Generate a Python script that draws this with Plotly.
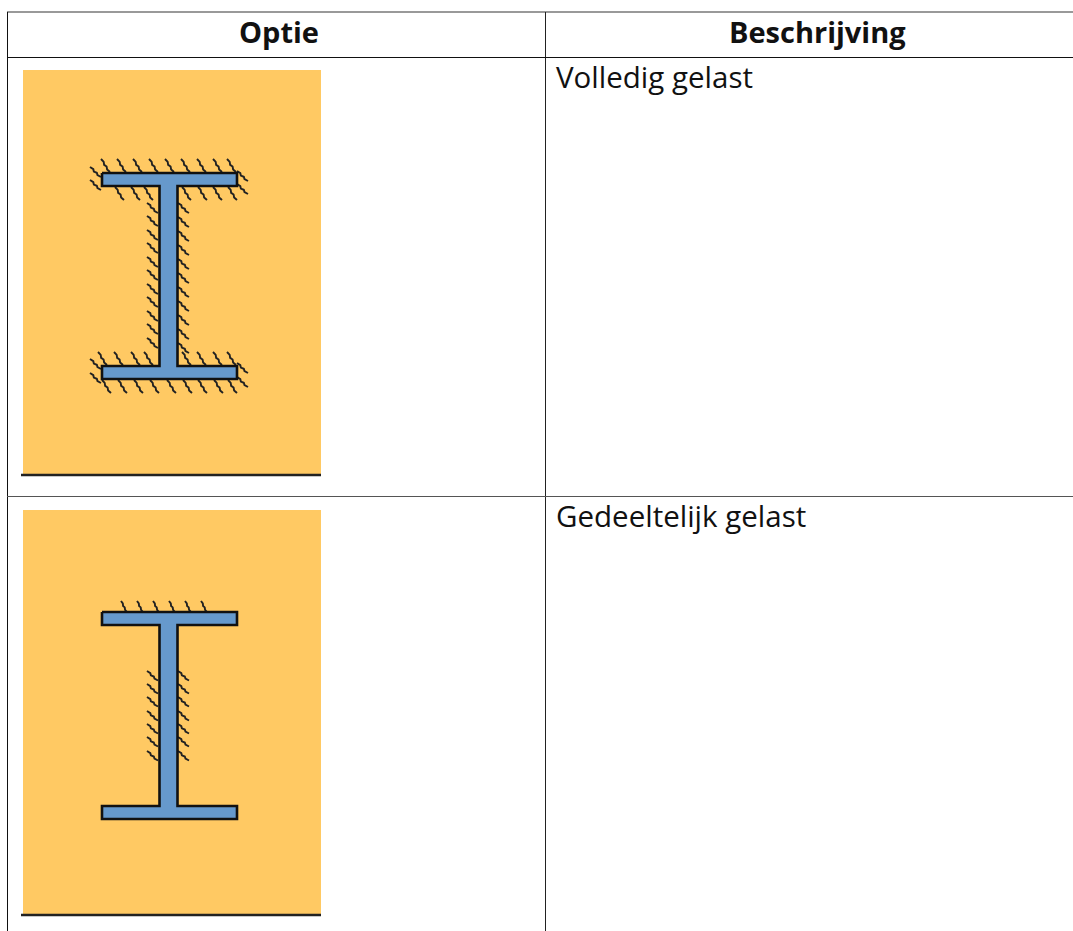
import plotly.graph_objects as go

W, H = 1073, 931
headers = ["Optie", "Beschrijving"]
header_x = [279, 817]
descriptions = ["Volledig gelast", "Gedeeltelijk gelast"]
description_y = [76.5, 515.5]

panel_top = [70, 510]
panel_bottom = [474, 914]
panel_left, panel_right = 23, 321

flange_left, flange_right = 102, 237
web_left, web_right = 159.5, 177.5
beam_tops = [173, 612]
beam_bottoms = [379, 819]
flange_h = 13

# hatch starts: x, y, with steep or flat stroke
steep1_x = [101, 117, 133, 149, 165, 181, 197, 213, 227,
            115, 131, 144, 182, 198, 213, 228,
            98, 114, 131, 144, 182, 197, 213, 227,
            102, 118, 134, 150, 167, 183, 198, 214, 228]
steep1_y = [159] * 9 + [187] * 7 + [352] * 8 + [380] * 9
flat1_x = [90, 90, 237, 237, 90, 90, 237, 237] + [147] * 11 + [178] * 11
flat1_y = [167, 180, 171, 184, 359, 373, 363, 377,
           203, 216, 230, 243, 257, 270, 284, 297, 311, 324, 338,
           203, 217, 231, 245, 259, 273, 287, 301, 315, 329, 343]
steep2_x = [121, 137, 153, 169, 185, 201]
steep2_y = [601] * 6
flat2_x = [147] * 7 + [178] * 7
flat2_y = [671, 684, 697, 711, 724, 737, 751, 671, 684, 697, 711, 724, 737, 751]

wiggle = [(0, 0), (.3, .22), (.35, .45), (.62, .58), (.68, .8), (1, 1)]

ORANGE = "#FFC963"
BLUE = "#6699CC"
fig = go.Figure()

def hatch(xs, ys, dx, dy):
    px, py = [], []
    for x0, y0 in zip(xs, ys):
        for a, b in wiggle:
            px.append(x0 + a * dx)
            py.append(y0 + b * dy)
        px.append(None)
        py.append(None)
    fig.add_trace(go.Scatter(x=px, y=py, mode="lines", hoverinfo="skip",
                             line=dict(color="#222", width=1.9)))

shapes = []
for t, b in zip(panel_top, panel_bottom):
    shapes.append(dict(type="rect", x0=panel_left, x1=panel_right, y0=t, y1=b,
                       fillcolor=ORANGE, line_width=0, layer="below"))
    shapes.append(dict(type="line", x0=21, x1=panel_right, y0=b + 1, y1=b + 1,
                       line=dict(color="#222", width=2.4), layer="below"))

for x0, y0, x1, y1, c, w in [
    (7, 12, W, 12, "#777777", 1.5),
    (7.5, 12, 7.5, H, "#111111", 1),
    (545.5, 12, 545.5, H, "#222222", 1),
    (7, 57.5, W, 57.5, "#111111", 1),
    (7, 496.5, W, 496.5, "#555555", 1),
]:
    shapes.append(dict(type="line", x0=x0, x1=x1, y0=y0, y1=y1,
                       line=dict(color=c, width=w), layer="below"))

hatch(steep1_x, steep1_y, 9, 13)
hatch(flat1_x, flat1_y, 11, 10)
hatch(steep2_x, steep2_y, 6, 11)
hatch(flat2_x, flat2_y, 11, 9.5)

for t, b in zip(beam_tops, beam_bottoms):
    xs = [flange_left, flange_right, flange_right, web_right, web_right, flange_right,
          flange_right, flange_left, flange_left, web_left, web_left, flange_left, flange_left]
    ys = [t, t, t + flange_h, t + flange_h, b - flange_h, b - flange_h,
          b, b, b - flange_h, b - flange_h, t + flange_h, t + flange_h, t]
    fig.add_trace(go.Scatter(x=xs, y=ys, mode="lines", fill="toself", fillcolor=BLUE,
                             hoverinfo="skip", line=dict(color="#111", width=2.6)))

ann = []
for s, x in zip(headers, header_x):
    ann.append(dict(x=x, y=31, text=f"<b>{s}</b>", showarrow=False, xanchor="center", yanchor="middle",
                    font=dict(family="Open Sans", size=29, color="#111")))
for s, y in zip(descriptions, description_y):
    ann.append(dict(x=554, y=y, text=s, showarrow=False, xanchor="left", yanchor="middle",
                    font=dict(family="Open Sans", size=29.5, color="#111")))

fig.update_layout(width=W, height=H, margin=dict(l=0, r=0, t=0, b=0),
                  paper_bgcolor="white", plot_bgcolor="white", showlegend=False,
                  shapes=shapes, annotations=ann,
                  xaxis=dict(range=[0, W], visible=False, fixedrange=True),
                  yaxis=dict(range=[H, 0], visible=False, fixedrange=True))

fig.write_html("out.html", config=dict(displayModeBar=False),
               post_script="document.body.style.margin='0';document.documentElement.style.overflow='hidden';")
